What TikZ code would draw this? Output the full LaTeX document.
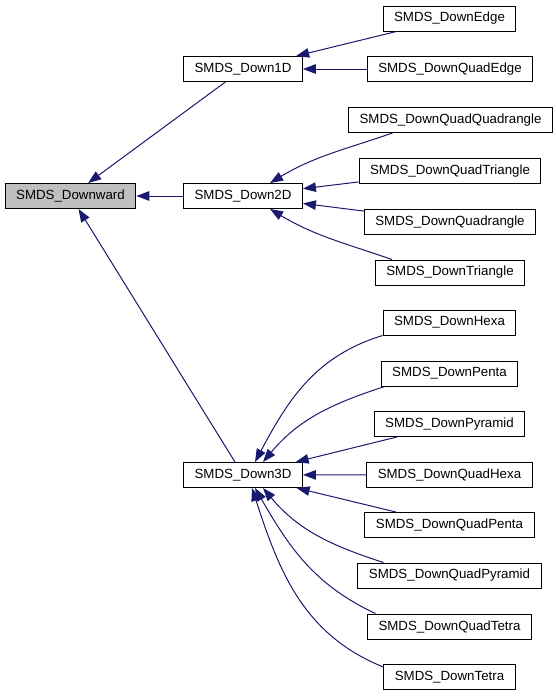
\documentclass[tikz,border=0pt]{standalone}
\usepackage{fontspec}
\setmainfont{Liberation Sans}
\usepackage{tikz}
\usetikzlibrary{arrows.meta}
\definecolor{midblue}{RGB}{25,25,112}

\begin{document}
\begin{tikzpicture}
  [x=1pt,y=-1pt,
   every node/.style={draw=black,line width=1pt,rectangle,minimum height=25pt,
     inner xsep=11pt,inner ysep=0pt,font=\fontsize{13.3}{16}\selectfont},
   base/.style={fill=black!25},
   edge/.style={draw=midblue,line width=1pt,-{Triangle[length=13pt,width=9.5pt]}}]
  \useasboundingbox (0,0) rectangle (555,696);
  % main column
  \node[base] (downward) at (70.5,196) {SMDS\_Downward};
  \node (down1D) at (243,69)  {SMDS\_Down1D};
  \node (down2D) at (243,196) {SMDS\_Down2D};
  \node (down3D) at (243,475) {SMDS\_Down3D};
  % leaves
  \node (edge)     at (449.5,18.5)  {SMDS\_DownEdge};
  \node (quadEdge) at (450,69)      {SMDS\_DownQuadEdge};
  \node (quadQuadrangle) at (450.5,120) {SMDS\_DownQuadQuadrangle};
  \node (quadTriangle)   at (450,170.8) {SMDS\_DownQuadTriangle};
  \node (quadrangle)     at (450,221.8) {SMDS\_DownQuadrangle};
  \node (triangle)       at (450,272.5) {SMDS\_DownTriangle};
  \node (hexa)    at (449.5,322.5) {SMDS\_DownHexa};
  \node (penta)   at (449.5,373.5) {SMDS\_DownPenta};
  \node (pyramid) at (449.5,424)   {SMDS\_DownPyramid};
  \node (quadHexa)    at (449.5,474.7) {SMDS\_DownQuadHexa};
  \node (quadPenta)   at (449.5,525)   {SMDS\_DownQuadPenta};
  \node (quadPyramid) at (449.5,575.5) {SMDS\_DownQuadPyramid};
  \node (quadTetra)   at (449.5,626.5) {SMDS\_DownQuadTetra};
  \node (tetra)       at (449.5,677)   {SMDS\_DownTetra};

  \foreach \from/\to in {down1D/downward,down2D/downward,down3D/downward,
      edge/down1D,quadEdge/down1D,quadTriangle/down2D,quadrangle/down2D,
      pyramid/down3D,quadHexa/down3D,quadPenta/down3D}
    \draw[edge] (\from) -- (\to);

  \draw[edge] ([xshift=-58pt]quadQuadrangle.south) to[out=199,in=31] ([xshift=27pt]down2D.north);
  \draw[edge] ([xshift=-58pt]triangle.north) to[out=161,in=329] ([xshift=27pt]down2D.south);
  \draw[edge] (hexa.south west) to[out=197,in=62] ([xshift=12pt]down3D.north);
  \draw[edge] ([xshift=4pt]penta.south west) to[out=198,in=50] ([xshift=20pt]down3D.north);
  \draw[edge] ([xshift=-66pt]quadPyramid.north) to[out=162,in=310] ([xshift=20pt]down3D.south);
  \draw[edge] ([xshift=-74pt]quadTetra.north) to[out=155,in=300] ([xshift=12pt]down3D.south);
  \draw[edge] ([yshift=-3pt]tetra.north west) to[out=158,in=288] ([xshift=9pt]down3D.south);
\end{tikzpicture}
\end{document}
